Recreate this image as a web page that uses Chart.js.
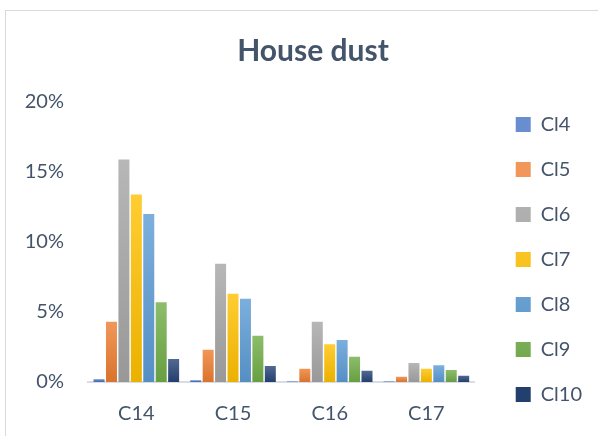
<!DOCTYPE html>
<html>
<head>
<meta charset="utf-8">
<script src="https://cdn.jsdelivr.net/npm/chart.js@4"></script>
<style>
  html, body { margin: 0; padding: 0; background: #fff; overflow: hidden; }
  #frame {
    position: absolute; left: 5px; top: 10px;
    width: 640px; height: 460px;
    border: 1px solid #d9d9d9;
  }
  #wrap { position: absolute; left: 0; top: 0; width: 616px; height: 435px; }
</style>
</head>
<body>
<div id="frame"><div id="wrap"><canvas id="dustChart"></canvas></div></div>
<script>
// chart data (percent)
const categories = ['C14', 'C15', 'C16', 'C17'];
const seriesNames = ['Cl4', 'Cl5', 'Cl6', 'Cl7', 'Cl8', 'Cl9', 'Cl10'];
const cl4 = [0.2, 0.12, 0.03, 0.03];
const cl5 = [4.3, 2.3, 0.95, 0.37];
const cl6 = [15.9, 8.45, 4.3, 1.36];
const cl7 = [13.4, 6.3, 2.7, 0.95];
const cl8 = [12.0, 5.95, 3.0, 1.2];
const cl9 = [5.7, 3.3, 1.8, 0.85];
const cl10 = [1.65, 1.15, 0.8, 0.45];
const yTicks = [0, 5, 10, 15, 20];

const seriesValues = [cl4, cl5, cl6, cl7, cl8, cl9, cl10];
const seriesColors = ['#4472c4', '#ed7d31', '#a5a5a5', '#ffc000', '#5b9bd5', '#70ad47', '#264478'];
const textColor = '#44546a';

// mix a hex colour with white (amt > 0) or black (amt < 0)
function shade(hex, amt) {
    const n = parseInt(hex.slice(1), 16);
    let r = n >> 16, g = (n >> 8) & 255, b = n & 255;
    const t = amt > 0 ? 255 : 0, p = Math.abs(amt);
    r = Math.round(r + (t - r) * p);
    g = Math.round(g + (t - g) * p);
    b = Math.round(b + (t - b) * p);
    return 'rgb(' + r + ',' + g + ',' + b + ')';
}

// gradient per bar, light at the top, darker at the base
function barFill(base) {
    return function (ctx) {
        const chart = ctx.chart;
        if (ctx.type !== 'data' || !chart.chartArea || !chart.scales.y) return base;
        const y = chart.scales.y;
        const top = y.getPixelForValue(ctx.raw);
        const bottom = y.getPixelForValue(0);
        if (!isFinite(top) || bottom - top < 1) return base;
        const g = chart.ctx.createLinearGradient(0, top, 0, bottom);
        g.addColorStop(0, shade(base, 0.2));
        g.addColorStop(1, shade(base, -0.08));
        return g;
    };
}

// nudge the legend and title so they sit where the original has them
const boxShift = {
    id: 'boxShift',
    afterLayout(chart) {
        const lg = chart.legend;
        lg.left += 16; lg.right += 16;
        lg.top += 31; lg.bottom += 31;
        const tb = chart.titleBlock;
        tb.left += 13; tb.right += 13;
    }
};

const datasets = seriesNames.map((name, i) => ({
    label: name,
    data: seriesValues[i],
    backgroundColor: barFill(seriesColors[i]),
    borderWidth: 0,
    categoryPercentage: 0.9,
    barPercentage: 0.885
}));

new Chart(document.getElementById('dustChart'), {
    type: 'bar',
    data: { labels: categories, datasets: datasets },
    options: {
        responsive: true,
        maintainAspectRatio: false,
        animation: false,
        layout: { padding: { left: 18, right: 46, top: 0, bottom: 0 } },
        scales: {
            x: {
                grid: { display: false, drawTicks: false },
                border: { display: true, color: '#d9dde3', width: 2 },
                ticks: { color: textColor, font: { family: 'Lato', size: 20 }, padding: 20 }
            },
            y: {
                min: 0,
                max: 20,
                afterFit(scale) { scale.width = 64; },
                afterBuildTicks(scale) { scale.ticks = yTicks.map(v => ({ value: v })); },
                grid: { display: false, drawTicks: false },
                border: { display: false },
                ticks: {
                    color: textColor,
                    font: { family: 'Lato', size: 20 },
                    padding: 24,
                    callback: v => v + '%'
                }
            }
        },
        plugins: {
            title: {
                display: true,
                text: 'House dust',
                color: textColor,
                font: { family: 'Lato', size: 30, weight: 'bold' },
                padding: { top: 22, bottom: 33 }
            },
            legend: {
                position: 'right',
                labels: {
                    color: textColor,
                    font: { family: 'Lato', size: 20 },
                    boxWidth: 15,
                    boxHeight: 15,
                    padding: 25
                }
            },
            tooltip: { enabled: false }
        }
    },
    plugins: [boxShift]
});
</script>
</body>
</html>
